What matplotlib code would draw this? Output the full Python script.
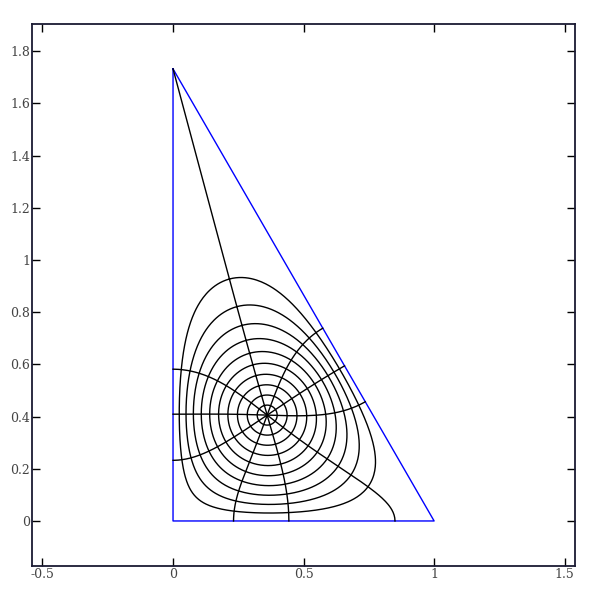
import numpy as np
import matplotlib
matplotlib.use("Agg")
from matplotlib import pyplot as plt
from matplotlib.ticker import FuncFormatter, FixedLocator

# triangle, counterclockwise from the top corner
vert_x = [0.0, 0.0, 1.0]
vert_y = [1.7320508, 0.0, 0.0]
vert_angle = [30, 90, 60]            # interior angles in degrees
prevert_deg = [0.0, 126.5, 216.8]    # where the corners sit on the unit circle

# polar grid of the disk that is pushed through the map
radii = [1/11, 2/11, 3/11, 4/11, 5/11, 6/11, 7/11, 8/11, 9/11, 10/11]
ray_deg = [0, 36, 72, 108, 144, 180, 216, 252, 288, 324]

x_ticks = [-0.5, 0, 0.5, 1, 1.5]
y_ticks = [0, 0.2, 0.4, 0.6, 0.8, 1, 1.2, 1.4, 1.6, 1.8]


def sc_integral(z, zk, beta, nodes=80):
    # int_0^z prod (1 - w/zk)^beta dw, along the straight segment
    t, wts = np.polynomial.legendre.leggauss(nodes)
    u = (t + 1) / 2
    u6 = u**6                      # w = z * (1 - u^6)
    ds = 6 * u**5 * wts / 2
    z = np.atleast_1d(np.asarray(z, dtype=complex))
    g = np.ones((len(z), nodes), dtype=complex)
    for p, b in zip(zk, beta):
        q = z / p
        fac = (1 - q)[:, None] + q[:, None] * u6[None, :]
        g = g * fac ** b
    return np.sum(g * ds[None, :], axis=1) * z


zk = np.exp(1j * np.radians(prevert_deg))
beta = np.array(vert_angle) / 180.0 - 1
w = np.array(vert_x) + 1j * np.array(vert_y)

F = sc_integral(zk, zk, beta)
A = (w[0] - w[1]) / (F[0] - F[1])
C = w[1] - A * F[1]


def sc_map(z):
    return A * sc_integral(z, zk, beta) + C


fig = plt.figure(figsize=(5.97, 5.91), dpi=100)
ax = fig.add_axes([0.054, 0.042, 0.909, 0.918])

ax.plot(vert_x + [vert_x[0]], vert_y + [vert_y[0]], color="b", lw=1.0)

th = np.linspace(0, 2 * np.pi, 721)
for r in radii:
    img = sc_map(r * np.exp(1j * th))
    ax.plot(img.real, img.imag, color="k", lw=1.0)

rr = np.linspace(0, 1, 301)
for d in ray_deg:
    img = sc_map(rr * np.exp(1j * np.radians(d)))
    ax.plot(img.real, img.imag, color="k", lw=1.0)

half = 1.2 * max(vert_y) / 2
ax.set_xlim(0.5 - half, 0.5 + half)
ax.set_ylim(max(vert_y) / 2 - half, max(vert_y) / 2 + half)

ax.xaxis.set_major_locator(FixedLocator(x_ticks))
ax.yaxis.set_major_locator(FixedLocator(y_ticks))
fmt = FuncFormatter(lambda v, pos: "%g" % v)
ax.xaxis.set_major_formatter(fmt)
ax.yaxis.set_major_formatter(fmt)
ax.tick_params(direction="in", top=True, right=True, length=5.5, width=1.0,
               labelsize=9, pad=1.5, colors="k", labelcolor="#444444")
for lab in ax.get_xticklabels() + ax.get_yticklabels():
    lab.set_family("DejaVu Serif")
for sp in ax.spines.values():
    sp.set_linewidth(1.3)
    sp.set_color("#1a1a33")

fig.savefig("out.png", dpi=100)
